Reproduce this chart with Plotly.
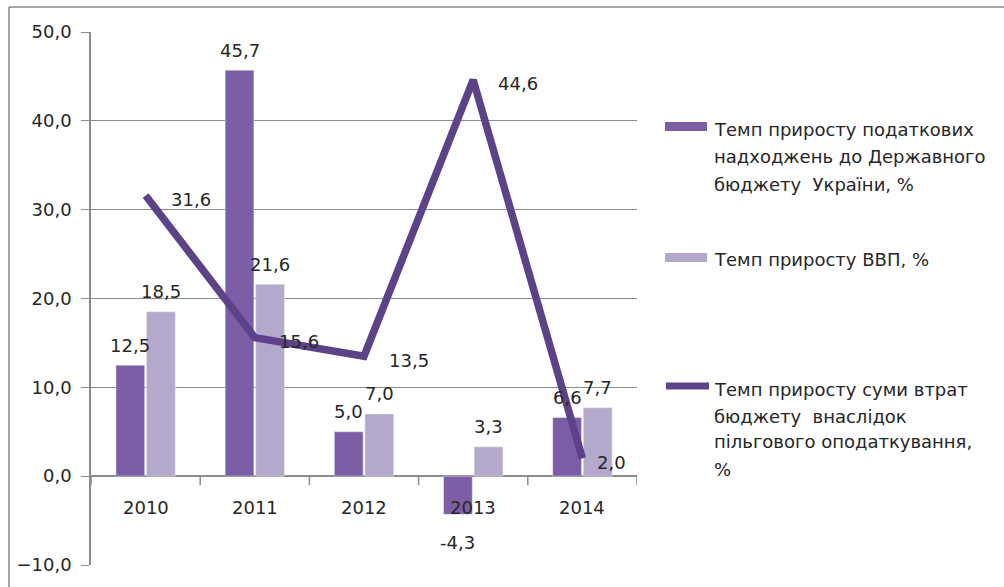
import plotly.graph_objects as go

# --- data -------------------------------------------------------------
years = ["2010", "2011", "2012", "2013", "2014"]
tax_revenue_growth = [12.5, 45.7, 5.0, -4.3, 6.6]   # Темп приросту податкових надходжень
gdp_growth = [18.5, 21.6, 7.0, 3.3, 7.7]            # Темп приросту ВВП
benefit_loss_growth = [31.6, 15.6, 13.5, 44.6, 2.0]  # Темп приросту суми втрат бюджету

y_ticks = [-10, 0, 10, 20, 30, 40, 50]

legend_tax = ["Темп приросту податкових", "надходжень до Державного", "бюджету  України, %"]
legend_gdp = ["Темп приросту ВВП, %"]
legend_loss = ["Темп приросту суми втрат", "бюджету  внаслідок", "пільгового оподаткування,", "%"]

# --- styling -----------------------------------------------------------
W, H = 1004, 587
ML, MR, MT, MB = 91, 367, 32, 22
PW, PH = W - ML - MR, H - MT - MB

C_TAX = "#7b5ea6"
C_GDP = "#b5a9cb"
C_LOSS = "#5c4288"
C_GRID = "#8c8c8c"
C_TEXT = "#262626"
FONT = "DejaVu Sans"
FS = 18

BAR_SHIFT = 15.25          # half of a bar slot, in px
LINE_LABEL_DX = [23, 22, 23, 23, 13]
LINE_LABEL_DY = -4


def px(x):
    return (x - ML) / PW


def py(y):
    return (H - MB - y) / PH


def fmt(v):
    return f"{v:.1f}".replace(".", ",")


fig = go.Figure()
fig.add_bar(x=years, y=tax_revenue_growth, marker_color=C_TAX, showlegend=False)
fig.add_bar(x=years, y=gdp_growth, marker_color=C_GDP, showlegend=False)
fig.add_scatter(x=years, y=benefit_loss_growth, mode="lines",
                line=dict(color=C_LOSS, width=7.5), showlegend=False)

annotations = []
shapes = []
tf = dict(family=FONT, size=FS, color=C_TEXT)

# value labels (category positions given by index on the category axis)
for i, v in enumerate(tax_revenue_growth):
    annotations.append(dict(x=i, y=v, text=fmt(v), showarrow=False, font=tf,
                            xshift=-BAR_SHIFT, yshift=20 if v >= 0 else -28))
for i, v in enumerate(gdp_growth):
    annotations.append(dict(x=i, y=v, text=fmt(v), showarrow=False, font=tf,
                            xshift=BAR_SHIFT, yshift=20 if v >= 0 else -28))
for i, (v, dx) in enumerate(zip(benefit_loss_growth, LINE_LABEL_DX)):
    annotations.append(dict(x=i, y=v, text=fmt(v), showarrow=False, font=tf,
                            xanchor="left", xshift=dx, yshift=LINE_LABEL_DY))

# category axis drawn along y = 0: labels under each group, ticks at group boundaries
for i, yr in enumerate(years):
    annotations.append(dict(x=i, y=0, text=yr, showarrow=False, font=tf,
                            yanchor="middle", yshift=-31))
for i in range(len(years) + 1):
    b = i - 0.5
    shapes.append(dict(type="line", xref="x", yref="y", ysizemode="pixel",
                       yanchor=0, x0=b, x1=b, y0=0, y1=-9,
                       line=dict(color=C_GRID, width=1.5)))

# legend drawn by hand: swatches plus text lines
shapes.append(dict(type="rect", xref="paper", yref="paper",
                   x0=px(665), x1=px(707), y0=py(131), y1=py(122),
                   fillcolor=C_TAX, line_width=0))
shapes.append(dict(type="rect", xref="paper", yref="paper",
                   x0=px(665), x1=px(707), y0=py(262), y1=py(253),
                   fillcolor=C_GDP, line_width=0))
shapes.append(dict(type="line", xref="paper", yref="paper",
                   x0=px(666), x1=px(709), y0=py(386), y1=py(386),
                   line=dict(color=C_LOSS, width=7)))

for lines, centers in ((legend_tax, [129, 157, 184]),
                       (legend_gdp, [259]),
                       (legend_loss, [389, 416, 442, 469])):
    for t, yy in zip(lines, centers):
        annotations.append(dict(xref="paper", yref="paper", x=px(712), y=py(yy),
                                xanchor="left", yanchor="middle", text=t,
                                showarrow=False, font=tf))

# outer frame (top and left edges)
shapes.append(dict(type="line", xref="paper", yref="paper",
                   x0=px(9), x1=px(1004), y0=py(7), y1=py(7),
                   line=dict(color="#8a8a8a", width=1.5)))
shapes.append(dict(type="line", xref="paper", yref="paper",
                   x0=px(9), x1=px(9), y0=py(7), y1=py(590),
                   line=dict(color="#8a8a8a", width=1.5)))

fig.update_layout(
    width=W, height=H,
    margin=dict(l=ML, r=MR, t=MT, b=MB),
    paper_bgcolor="white", plot_bgcolor="white",
    barmode="group", bargap=0.44, bargroupgap=0.06,
    separators=", ",
    font=dict(family=FONT, size=FS, color=C_TEXT),
    annotations=annotations, shapes=shapes,
    xaxis=dict(type="category", categoryarray=years, categoryorder="array",
               range=[-0.5, len(years) - 0.5], autorange=False,
               showline=False, ticks="", showticklabels=False, showgrid=False),
    yaxis=dict(range=[-10, 50], autorange=False, tickvals=y_ticks, tickformat=".1f",
               showline=True, linecolor=C_GRID, linewidth=1.5,
               ticks="outside", ticklen=8, tickcolor=C_GRID,
               showgrid=True, gridcolor=C_GRID, gridwidth=1.3,
               zeroline=True, zerolinecolor=C_GRID, zerolinewidth=1.5,
               ticklabelstandoff=6,
               tickfont=dict(family=FONT, size=FS, color=C_TEXT)),
)

fig.write_html("out.html")
